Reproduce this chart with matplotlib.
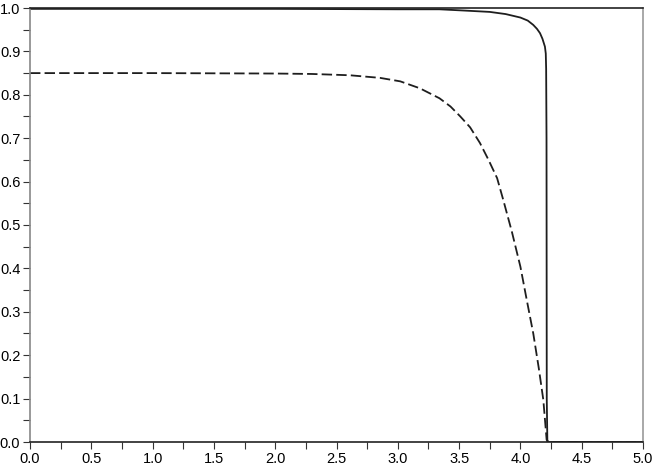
import numpy as np
import matplotlib
matplotlib.use("Agg")
import matplotlib.pyplot as plt
from matplotlib.ticker import MultipleLocator, FormatStrFormatter

# solid curve
x_solid = [0.0, 1.0, 2.0, 3.0, 3.34, 3.55, 3.75, 3.88, 4.0, 4.06, 4.105, 4.135, 4.16, 4.18,
           4.2, 4.207, 4.21, 4.213, 4.215, 4.22, 5.0]
y_solid = [0.998, 0.998, 0.998, 0.997, 0.997, 0.994, 0.991, 0.986, 0.978, 0.971, 0.961, 0.952,
           0.942, 0.929, 0.911, 0.895, 0.860, 0.700, 0.100, 0.0, 0.0]

# dashed curve
x_dash = [0.0, 1.0, 2.0, 2.3, 2.61, 2.855, 3.02, 3.18, 3.34, 3.43, 3.51, 3.59, 3.67, 3.74,
          3.81, 3.86, 3.93, 4.0, 4.05, 4.105, 4.15, 4.187, 4.214, 4.23, 5.0]
y_dash = [0.850, 0.850, 0.849, 0.848, 0.845, 0.839, 0.831, 0.815, 0.792, 0.773, 0.750, 0.725,
          0.689, 0.650, 0.608, 0.558, 0.485, 0.404, 0.330, 0.250, 0.170, 0.097, 0.005, 0.0, 0.0]

plt.rcParams["font.family"] = ["Liberation Sans", "DejaVu Sans"]
plt.rcParams["lines.scale_dashes"] = False

fig = plt.figure(figsize=(6.55, 4.69), dpi=100)
ax = fig.add_axes([30 / 655, 27 / 469, 613 / 655, 434 / 469])

ax.plot(x_solid, y_solid, color="#1e1e1e", lw=1.3)
ax.plot(x_dash, y_dash, color="#1e1e1e", lw=1.3, dashes=(7.5, 3))

ax.set_xlim(0, 5)
ax.set_ylim(0, 1)
ax.xaxis.set_major_locator(MultipleLocator(0.5))
ax.xaxis.set_minor_locator(MultipleLocator(0.25))
ax.yaxis.set_major_locator(MultipleLocator(0.1))
ax.yaxis.set_minor_locator(MultipleLocator(0.05))
ax.xaxis.set_major_formatter(FormatStrFormatter("%.1f"))
ax.yaxis.set_major_formatter(FormatStrFormatter("%.1f"))

ax.tick_params(which="both", direction="out", labelsize=10.5, color="#333333", pad=2)
ax.tick_params(which="both", length=5, width=0.8)

ax.spines["top"].set_color("#222222")
ax.spines["bottom"].set_color("#222222")
ax.spines["left"].set_color("#888888")
ax.spines["right"].set_color("#999999")
for s in ax.spines.values():
    s.set_linewidth(1.2)

fig.savefig("out.png", dpi=100)
